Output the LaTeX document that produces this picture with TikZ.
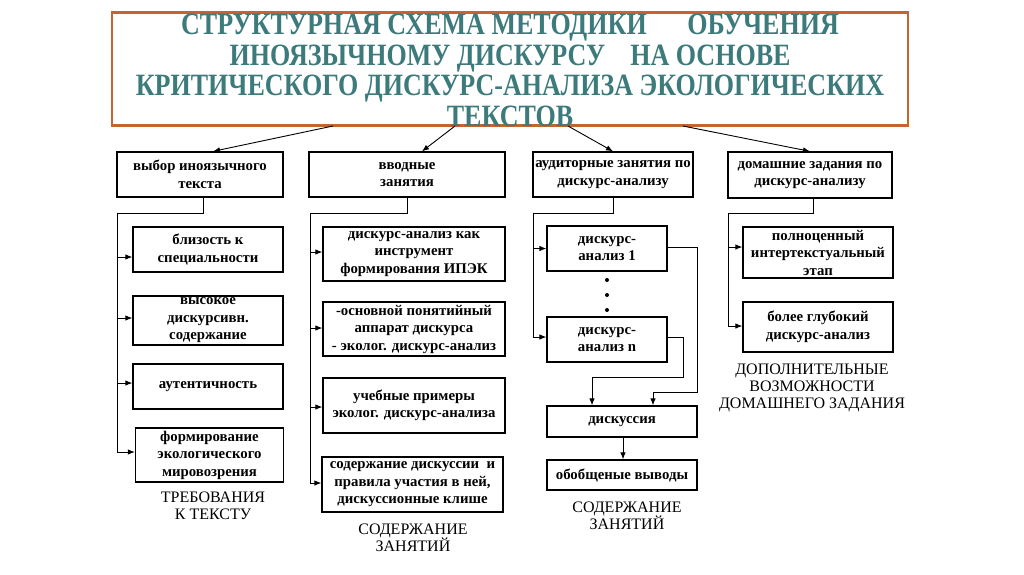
\documentclass[tikz,border=0pt]{standalone}
\usepackage{fontspec}
\setmainfont{Liberation Serif}
\newfontfamily\titlefont[FakeStretch=0.84]{Liberation Serif}
\usetikzlibrary{arrows.meta}
\definecolor{titleteal}{RGB}{60,122,124}
\definecolor{titleframe}{RGB}{196,100,48}
\tikzset{
  bx/.style={draw, line width=1.3pt, align=center, inner sep=0pt,
    font=\bfseries\fontsize{14.8}{17.5}\selectfont},
  lbl/.style={align=center, inner sep=0pt, font=\fontsize{16}{17}\selectfont},
  ln/.style={line width=0.9pt},
  arr/.style={line width=0.9pt, -{Latex[length=7pt,width=5.5pt]}},
}
\begin{document}
\begin{tikzpicture}[x=1pt,y=-1pt]
\useasboundingbox[fill=white] (0,0) rectangle (1024,574);

% title
\node[draw=titleframe, line width=2.6pt, minimum width=796pt, minimum height=113pt, inner sep=0pt] (frame) at (510,69) {};
\node[font=\titlefont\bfseries\fontsize{31}{30.5}\selectfont, text=titleteal, align=center, inner sep=0pt] (ttl) at (510,70.5)
 {СТРУКТУРНАЯ СХЕМА МЕТОДИКИ\hspace{1.1em} ОБУЧЕНИЯ\\
  ИНОЯЗЫЧНОМУ ДИСКУРСУ\hspace{0.6em} НА ОСНОВЕ\\
  КРИТИЧЕСКОГО ДИСКУРС-АНАЛИЗА ЭКОЛОГИЧЕСКИХ\\
  ТЕКСТОВ};

% top row
\node[bx, minimum width=166pt, minimum height=45pt] (t1) at (200,174.5) {выбор иноязычного\\текста};
\node[bx, minimum width=196pt, minimum height=45pt] (t2) at (407,174.5) {вводные\\занятия};
\node[bx, minimum width=160pt, minimum height=45pt] (t3) at (613,174.5) {аудиторные занятия по\\дискурс-анализу};
\node[bx, minimum width=164pt, minimum height=46pt] (t4) at (810,175) {домашние задания по\\дискурс-анализу};

\coordinate (s1) at (333,126);
\coordinate (s2) at (455,126);
\coordinate (s3) at (568,126);
\coordinate (s4) at (683,126);
\draw[arr] (s1) -- ([xshift=13pt]t1.north);
\draw[arr] (s2) -- ([xshift=15pt]t2.north);
\draw[arr] (s3) -- (t3.north);
\draw[arr] (s4) -- (t4.north);

% column 1
\node[bx, minimum width=150pt, minimum height=45pt] (a1) at (208,249.5) {близость к\\специальности};
\node[bx, minimum width=150pt, minimum height=49pt] (a2) at (208,320.5) {высокое\\дискурсивн.\\содержание};
\node[bx, minimum width=150pt, minimum height=45pt] (a3) at (208,386.5) {аутентичность};
\node[bx, minimum width=148pt, minimum height=54pt] (a4) at (209.5,455) {формирование\\экологического\\мировозрения};
\node[lbl] (la) at (213,506) {ТРЕБОВАНИЯ\\К ТЕКСТУ};

\coordinate (v1) at (117,213);
\coordinate (a1w) at ([yshift=-7.5pt]a1.west);
\coordinate (a2w) at ([yshift=2.5pt]a2.west);
\coordinate (a3w) at ([yshift=3.5pt]a3.west);
\coordinate (a4w) at ([yshift=3pt]a4.west);
\draw[ln] ([xshift=3pt]t1.south) |- (v1) -- (v1 |- a4w);
\draw[arr] (v1 |- a1w) -- (a1w);
\draw[arr] (v1 |- a2w) -- (a2w);
\draw[arr] (v1 |- a3w) -- (a3w);
\draw[arr] (v1 |- a4w) -- (a4w);

% column 2
\node[bx, minimum width=182pt, minimum height=54pt] (b1) at (414,254) {дискурс-анализ как\\инструмент\\формирования ИПЭК};
\node[bx, minimum width=182pt, minimum height=54pt] (b2) at (414,329) {-основной понятийный\\аппарат дискурса\\- эколог. дискурс-анализ};
\node[bx, minimum width=182pt, minimum height=55pt] (b3) at (414,405.5) {учебные примеры\\эколог. дискурс-анализа};
\node[bx, minimum width=181pt, minimum height=55pt] (b4) at (412.5,484.5) {содержание дискуссии\ \ и\\правила участия в ней,\\дискуссионные клише};
\node[lbl] (lb) at (413,537.5) {СОДЕРЖАНИЕ\\ЗАНЯТИЙ};

\coordinate (v2) at (310,213);
\coordinate (b1w) at ([yshift=2pt]b1.west);
\coordinate (b2w) at ([yshift=1pt]b2.west);
\coordinate (b3w) at ([yshift=-1.5pt]b3.west);
\coordinate (b4w) at ([yshift=1.5pt]b4.west);
\draw[ln] (t2.south) |- (v2) -- (v2 |- b4w);
\draw[arr] (v2 |- b1w) -- (b1w);
\draw[arr] (v2 |- b2w) -- (b2w);
\draw[arr] (v2 |- b3w) -- (b3w);
\draw[arr] (v2 |- b4w) -- (b4w);

% column 3
\node[bx, minimum width=120pt, minimum height=45pt] (c1) at (607,248.5) {дискурс-\\анализ 1};
\node[bx, minimum width=120pt, minimum height=45pt] (cn) at (607,339.5) {дискурс-\\анализ n};
\node[bx, minimum width=150pt, minimum height=31pt] (cd) at (622,421.5) {дискуссия};
\node[bx, minimum width=150pt, minimum height=30pt] (cv) at (622,475) {обобщеные выводы};
\node[lbl] (lc) at (627,515.5) {СОДЕРЖАНИЕ\\ЗАНЯТИЙ};
\fill (607,280) circle (2pt) (607,295) circle (2pt) (607,310) circle (2pt);

\coordinate (v3) at (533,213);
\coordinate (c1w) at (c1.west);
\coordinate (cnw) at ([yshift=2.5pt]cn.west);
\draw[ln] (t3.south) |- (v3) -- (v3 |- cnw);
\draw[arr] (v3 |- c1w) -- (c1w);
\draw[arr] (v3 |- cnw) -- (cnw);

\coordinate (r1) at (697,392);
\coordinate (r2) at (683,377);
\draw[arr] ([yshift=1.5pt]c1.east) -| (r1) -| ([xshift=31pt]cd.north);
\draw[arr] ([yshift=2.5pt]cn.east) -| (r2) -| ([xshift=-30pt]cd.north);
\draw[arr] ([xshift=1pt]cd.south) -- ([xshift=1pt]cv.north);

% column 4
\node[bx, minimum width=150pt, minimum height=51pt] (d1) at (818,252.5) {полноценный\\интертекстуальный\\этап};
\node[bx, minimum width=150pt, minimum height=50pt] (d2) at (818,327) {более глубокий\\дискурс-анализ};
\node[lbl] (ld) at (812,387.5) {ДОПОЛНИТЕЛЬНЫЕ\\ВОЗМОЖНОСТИ\\ДОМАШНЕГО ЗАДАНИЯ};

\coordinate (v4) at (728,213);
\coordinate (d1w) at ([yshift=5.5pt]d1.west);
\coordinate (d2w) at ([yshift=1pt]d2.west);
\draw[ln] ([xshift=3pt]t4.south) |- (v4) -- (v4 |- d2w);
\draw[arr] (v4 |- d1w) -- (d1w);
\draw[arr] (v4 |- d2w) -- (d2w);
\end{tikzpicture}
\end{document}
